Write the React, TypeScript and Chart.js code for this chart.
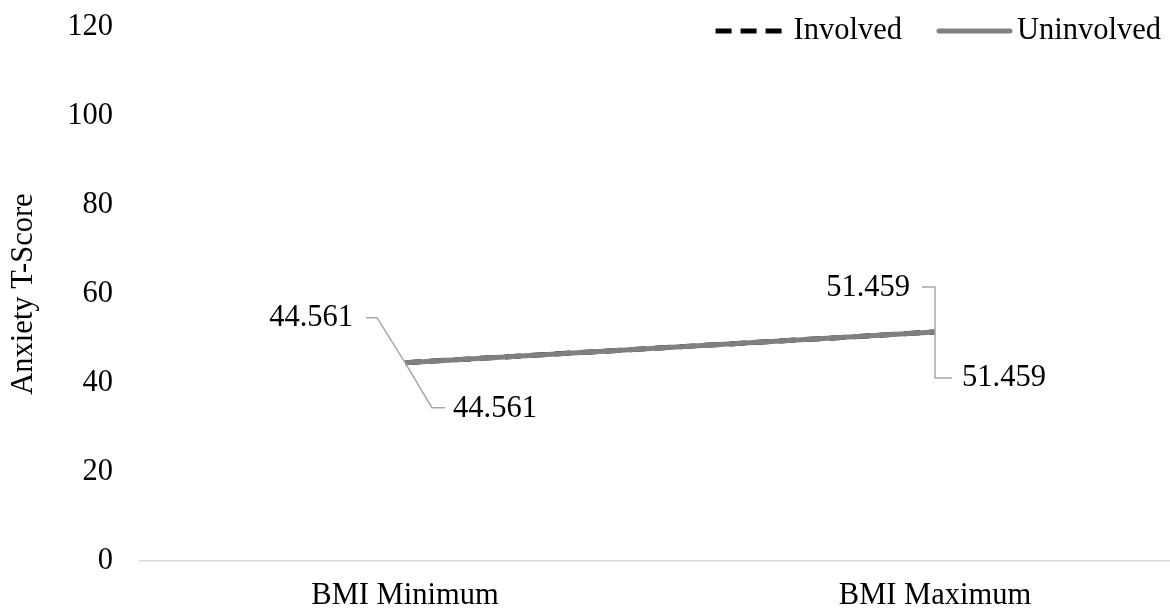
import React, { useEffect, useRef } from "react";
import { Chart, registerables } from "chart.js";

Chart.register(...registerables);

// ---- data ----
const categories = ["BMI Minimum", "BMI Maximum"];
const involved = [44.561, 51.459];
const uninvolved = [44.561, 51.459];
const yTicks = [0, 20, 40, 60, 80, 100, 120];
const yTitle = "Anxiety T-Score";

// ---- styling ----
const FONT_FAMILY = "'Liberation Serif', 'Times New Roman', serif";
const FONT_SIZE = 30.5;
const TEXT_COLOR = "#000000";
const LEADER_COLOR = "#a6a6a6";

// Callout placement for each series' value labels (offsets from the point, px)
const callouts: Record<string, { kx: number; ky: number; ex: number; tx: number; ty: number; align: CanvasTextAlign }[]> = {
  Involved: [
    { kx: -28, ky: -45, ex: -39, tx: -52, ty: -45, align: "right" },
    { kx: 0, ky: -45, ex: -13, tx: -25, ty: -44, align: "right" },
  ],
  Uninvolved: [
    { kx: 27, ky: 45, ex: 40, tx: 48, ty: 46, align: "left" },
    { kx: 0, ky: 46, ex: 17, tx: 27, ty: 46, align: "left" },
  ],
};

const calloutPlugin = {
  id: "valueCallouts",
  afterDatasetsDraw(chart: any) {
    const ctx = chart.ctx as CanvasRenderingContext2D;
    chart.data.datasets.forEach((ds: any, di: number) => {
      const meta = chart.getDatasetMeta(di);
      const layout = callouts[ds.label];
      if (!layout) return;
      meta.data.forEach((el: any, i: number) => {
        const c = layout[i];
        const x = el.x;
        const y = el.y;
        ctx.save();
        ctx.strokeStyle = LEADER_COLOR;
        ctx.lineWidth = 1.5;
        ctx.beginPath();
        ctx.moveTo(x, y);
        ctx.lineTo(x + c.kx, y + c.ky);
        ctx.lineTo(x + c.ex, y + c.ky);
        ctx.stroke();
        ctx.fillStyle = TEXT_COLOR;
        ctx.font = `${FONT_SIZE}px ${FONT_FAMILY}`;
        ctx.textAlign = c.align;
        ctx.textBaseline = "middle";
        ctx.fillText(Number(ds.data[i]).toFixed(3), x + c.tx, y + c.ty);
        ctx.restore();
      });
    });
  },
};

// Line-sample legend in the top-right corner of the plot
const legendPlugin = {
  id: "lineLegend",
  afterDraw(chart: any) {
    const ctx = chart.ctx as CanvasRenderingContext2D;
    const sampleLen = 71;
    const sampleGap = 7;
    const itemGap = 37;
    const cy = 31;
    let xRight = 1161;
    ctx.save();
    ctx.font = `${FONT_SIZE}px ${FONT_FAMILY}`;
    ctx.textBaseline = "middle";
    const items = chart.data.datasets.map((ds: any) => ds);
    for (let k = items.length - 1; k >= 0; k--) {
      const ds = items[k];
      const w = ctx.measureText(ds.label).width;
      const textX = xRight - w;
      ctx.fillStyle = TEXT_COLOR;
      ctx.textAlign = "left";
      ctx.fillText(ds.label, textX, cy);
      const lineEnd = textX - sampleGap;
      const lineStart = lineEnd - sampleLen;
      ctx.beginPath();
      ctx.setLineDash(ds.borderDash || []);
      ctx.lineWidth = ds.borderWidth;
      ctx.strokeStyle = ds.borderColor;
      ctx.lineCap = ds.borderDash ? "butt" : "round";
      ctx.moveTo(lineStart, cy);
      ctx.lineTo(lineEnd, cy);
      ctx.stroke();
      ctx.setLineDash([]);
      xRight = lineStart - itemGap;
    }
    ctx.restore();
  },
};

export default function App() {
  const canvasRef = useRef<HTMLCanvasElement | null>(null);

  useEffect(() => {
    if (!canvasRef.current) return;
    const chart = new Chart(canvasRef.current, {
      type: "line",
      data: {
        labels: categories,
        datasets: [
          {
            label: "Involved",
            data: involved,
            borderColor: "#000000",
            backgroundColor: "#000000",
            borderWidth: 5,
            borderDash: [16, 9],
            pointRadius: 0,
            tension: 0,
            order: 1,
          },
          {
            label: "Uninvolved",
            data: uninvolved,
            borderColor: "#808080",
            backgroundColor: "#808080",
            borderWidth: 5,
            pointRadius: 0,
            tension: 0,
            order: 0,
          },
        ],
      },
      options: {
        responsive: false,
        animation: false,
        devicePixelRatio: 1,
        layout: { padding: { top: 27, right: 4, left: 0, bottom: 0 } },
        plugins: {
          legend: { display: false },
          tooltip: { enabled: false },
        },
        scales: {
          x: {
            type: "category",
            offset: true,
            grid: { display: false, drawTicks: false },
            border: { display: true, color: "#d9d9d9", width: 1.5 },
            ticks: {
              color: TEXT_COLOR,
              font: { family: FONT_FAMILY, size: FONT_SIZE },
              padding: 17,
              maxRotation: 0,
            },
            afterFit(scale: any) {
              scale.height = 52;
              scale.paddingLeft = 0;
              scale.paddingRight = 0;
            },
          },
          y: {
            min: 0,
            max: 120,
            grid: { display: false, drawTicks: false },
            border: { display: false },
            ticks: {
              color: TEXT_COLOR,
              font: { family: FONT_FAMILY, size: FONT_SIZE },
              padding: 27,
            },
            afterBuildTicks(scale: any) {
              scale.ticks = yTicks.map((v) => ({ value: v }));
            },
            title: {
              display: true,
              text: yTitle,
              color: TEXT_COLOR,
              font: { family: FONT_FAMILY, size: FONT_SIZE },
              padding: { top: 6, bottom: 0 },
            },
            afterFit(scale: any) {
              scale.width = 140;
              scale.paddingTop = 0;
              scale.paddingBottom = 0;
            },
          },
        },
      },
      plugins: [calloutPlugin, legendPlugin],
    });
    return () => chart.destroy();
  }, []);

  return (
    <div
      style={{
        position: "fixed",
        left: 0,
        top: 0,
        width: 1170,
        height: 613,
        overflow: "hidden",
        background: "#ffffff",
      }}
    >
      <canvas ref={canvasRef} width={1204} height={613} style={{ display: "block" }} />
    </div>
  );
}
